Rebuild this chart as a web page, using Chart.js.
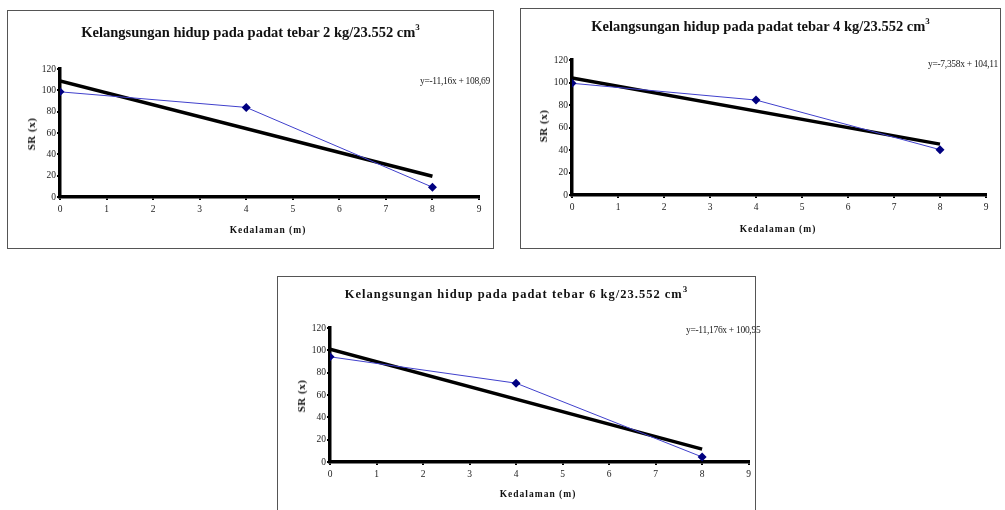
<!DOCTYPE html>
<html>
<head>
<meta charset="utf-8">
<script src="https://cdn.jsdelivr.net/npm/chart.js@4.4.1/dist/chart.umd.min.js"></script>
<style>
    html, body { margin: 0; padding: 0; background: #fff; }
    body { width: 1005px; height: 510px; position: relative; overflow: hidden; font-family: "Liberation Serif", "Times New Roman", serif; }
    .panel { position: absolute; border: 1px solid #555; background: #fff; }
    .panel canvas { position: absolute; left: 0; top: 0; }
    .title { position: absolute; left: 0; right: 0; text-align: center; font-weight: bold; font-size: 14.5px; color: #111; white-space: nowrap; }
    .title sup { font-size: 9px; position: relative; top: -1px; }
    .title.spaced { font-size: 12.5px; letter-spacing: 1px; }
    .eq { position: absolute; font-size: 9.5px; color: #222; white-space: nowrap; letter-spacing: -0.3px; }
    .ytitle { position: absolute; font-size: 11px; font-weight: bold; color: #111; white-space: nowrap; letter-spacing: 0.5px; transform: translate(-50%, -50%) rotate(-90deg); }
    .xtitle { position: absolute; font-size: 9.5px; font-weight: bold; color: #111; white-space: nowrap; letter-spacing: 1px; transform: translate(-50%, -50%); }
</style>
</head>
<body>

<div class="panel" id="p1" style="left:7px; top:10px; width:485px; height:237px;">
    <canvas id="c1" width="485" height="237"></canvas>
    <div class="title" style="top:12px;">Kelangsungan hidup pada padat tebar 2 kg/23.552 cm<sup>3</sup></div>
    <div class="eq" style="left:412px; top:65px;">y=-11,16x + 108,69</div>
    <div class="ytitle" style="left:23px; top:123px;">SR (x)</div>
    <div class="xtitle" style="left:260px; top:219px;">Kedalaman (m)</div>
</div>

<div class="panel" id="p2" style="left:520px; top:8px; width:479px; height:239px;">
    <canvas id="c2" width="479" height="239"></canvas>
    <div class="title" style="top:8px;">Kelangsungan hidup pada padat tebar 4 kg/23.552 cm<sup>3</sup></div>
    <div class="eq" style="left:407px; top:50px;">y=-7,358x + 104,11</div>
    <div class="ytitle" style="left:22px; top:117px;">SR (x)</div>
    <div class="xtitle" style="left:257px; top:220px;">Kedalaman (m)</div>
</div>

<div class="panel" id="p3" style="left:277px; top:276px; width:477px; height:240px;">
    <canvas id="c3" width="477" height="240"></canvas>
    <div class="title spaced" style="top:8px;">Kelangsungan hidup pada padat tebar 6 kg/23.552 cm<sup>3</sup></div>
    <div class="eq" style="left:408px; top:48px;">y=-11,176x + 100,95</div>
    <div class="ytitle" style="left:23px; top:119px;">SR (x)</div>
    <div class="xtitle" style="left:260px; top:217px;">Kedalaman (m)</div>
</div>

<script>
// depth (m) and survival rate SR (%)
const depth = [0, 4, 8];
const sr2kg = [98.6, 84.0, 9.2];
const sr4kg = [99.3, 84.4, 40.3];
const sr6kg = [94.2, 70.6, 4.5];

// linear trend lines, end points at depth 0 and 8
const trendDepth = [0, 8];
const trend2kg = [108.7, 19.4];
const trend4kg = [104.1, 45.2];
const trend6kg = [101.0, 11.5];

const xTickValues = [0, 1, 2, 3, 4, 5, 6, 7, 8, 9];
const yTickValues = [0, 20, 40, 60, 80, 100, 120];

function toPoints(xs, ys) {
    return xs.map((x, i) => ({ x, y: ys[i] }));
}

function buildChart(canvasId, values, trend, box) {
    return new Chart(document.getElementById(canvasId), {
        type: "scatter",
        data: {
            datasets: [
                {
                    label: "SR",
                    data: toPoints(depth, values),
                    showLine: true,
                    borderColor: "#4040cc",
                    borderWidth: 1,
                    pointStyle: "rectRot",
                    pointRadius: 4.5,
                    pointBackgroundColor: "#000080",
                    pointBorderColor: "#000080",
                    pointBorderWidth: 0,
                    order: 1
                },
                {
                    label: "Trend",
                    data: toPoints(trendDepth, trend),
                    showLine: true,
                    borderColor: "#000",
                    borderWidth: 3.5,
                    pointRadius: 0,
                    order: 2
                }
            ]
        },
        options: {
            responsive: false,
            animation: false,
            events: [],
            layout: {
                padding: { top: box.top, right: box.right, left: 0, bottom: 0 }
            },
            plugins: {
                legend: { display: false },
                tooltip: { enabled: false }
            },
            scales: {
                x: {
                    type: "linear",
                    min: 0,
                    max: 9,
                    afterBuildTicks: (scale) => {
                        scale.ticks = xTickValues.map((v) => ({ value: v }));
                    },
                    afterFit: (scale) => { scale.height = box.bottom; },
                    ticks: {
                        color: "#222",
                        padding: 4,
                        font: { family: "Liberation Serif", size: 9.5 }
                    },
                    grid: {
                        drawOnChartArea: false,
                        drawTicks: true,
                        tickLength: 3,
                        color: "#000",
                        lineWidth: 2
                    },
                    border: { display: true, color: "#000", width: 3.5 }
                },
                y: {
                    type: "linear",
                    min: 0,
                    max: 120,
                    afterBuildTicks: (scale) => {
                        scale.ticks = yTickValues.map((v) => ({ value: v }));
                    },
                    afterFit: (scale) => { scale.width = box.left; },
                    ticks: {
                        color: "#222",
                        padding: 1,
                        font: { family: "Liberation Serif", size: 9.5 }
                    },
                    grid: {
                        drawOnChartArea: false,
                        drawTicks: true,
                        tickLength: 3,
                        color: "#000",
                        lineWidth: 2
                    },
                    border: { display: true, color: "#000", width: 3.5 }
                }
            }
        }
    });
}

// plot area offsets inside each panel: y-axis width, top, right, x-axis height
buildChart("c1", sr2kg, trend2kg, { left: 52, top: 58, right: 14, bottom: 51 });
buildChart("c2", sr4kg, trend4kg, { left: 51, top: 51, right: 14, bottom: 53 });
buildChart("c3", sr6kg, trend6kg, { left: 52, top: 51, right: 5, bottom: 55 });
</script>
</body>
</html>
